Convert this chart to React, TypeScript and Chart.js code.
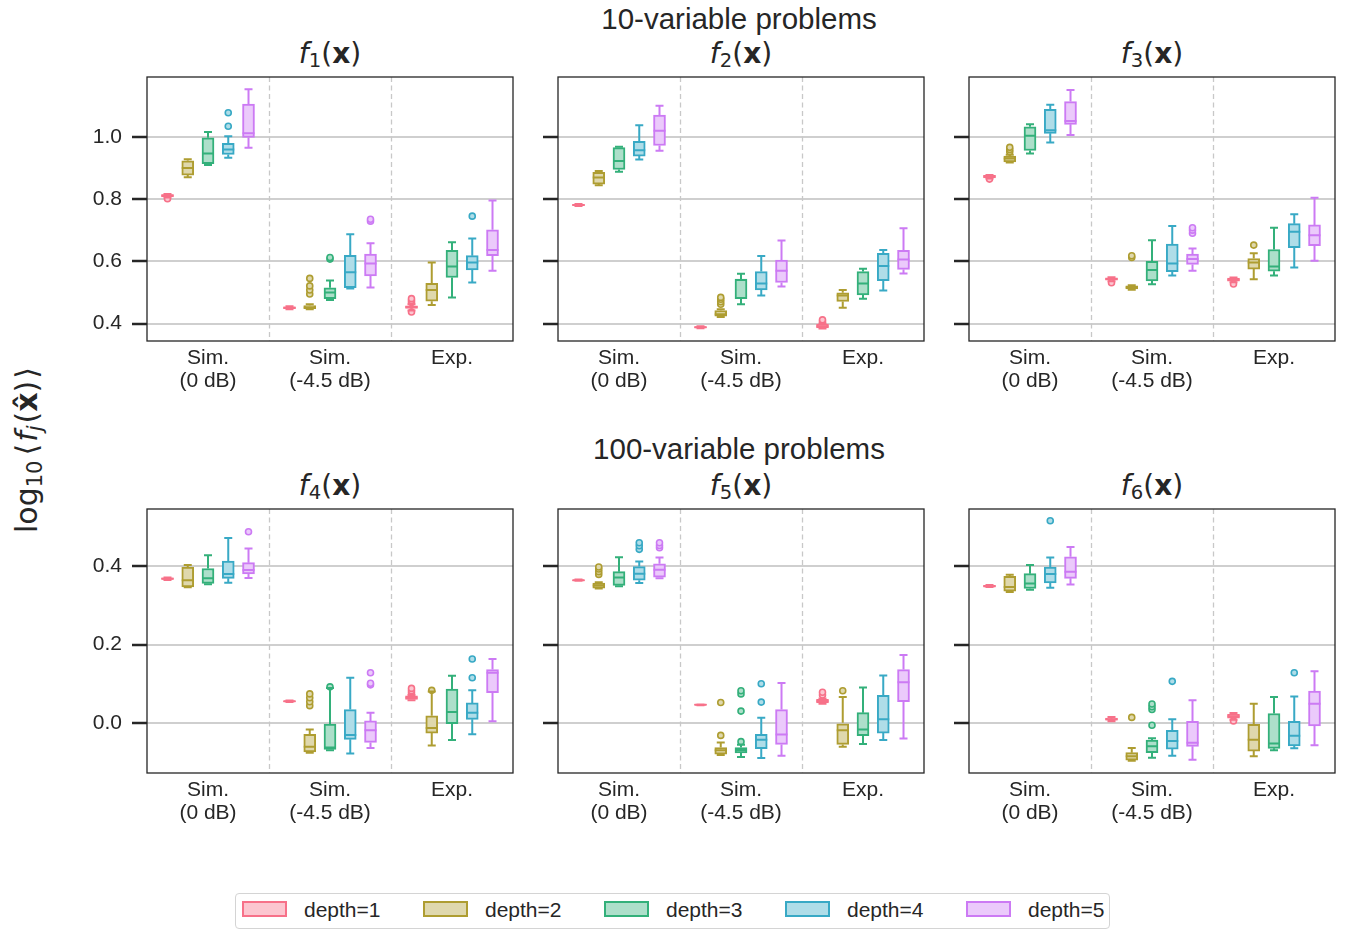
import React, { useEffect, useRef } from "react";
import { Chart, registerables } from "chart.js";

Chart.register(...registerables);

// ---------- data ----------
const GROUP_LABELS: string[][] = [["Sim.", "(0 dB)"], ["Sim.", "(-4.5 dB)"], ["Exp."]];
const DEPTH_LABELS = ["depth=1", "depth=2", "depth=3", "depth=4", "depth=5"];
const DEPTH_COLORS = ["#f77189", "#ae9d31", "#33b07a", "#38a9c5", "#cc7af4"];
const ROW_TITLES = ["10-variable problems", "100-variable problems"];
const FUNC_INDICES = ["1", "2", "3", "4", "5", "6"];
const TOP_TICKS = [0.4, 0.6, 0.8, 1.0];
const BOTTOM_TICKS = [0.0, 0.2, 0.4];
const TOP_RANGE = [0.344, 1.192];
const BOTTOM_RANGE = [-0.128, 0.546];

// per group (Sim 0 dB, Sim -4.5 dB, Exp), per depth: [whisker low, Q1, median, Q3, whisker high]
const F1_BOXES: number[][][] = [
  [[0.805, 0.807, 0.811, 0.814, 0.816], [0.870, 0.877, 0.900, 0.923, 0.928], [0.909, 0.914, 0.946, 0.997, 1.015], [0.933, 0.943, 0.959, 0.979, 1.002], [0.965, 0.998, 1.011, 1.105, 1.153]],
  [[0.446, 0.448, 0.451, 0.454, 0.456], [0.446, 0.448, 0.452, 0.458, 0.462], [0.476, 0.480, 0.500, 0.515, 0.538], [0.513, 0.515, 0.565, 0.619, 0.687], [0.516, 0.553, 0.593, 0.623, 0.658]],
  [[0.442, 0.449, 0.453, 0.457, 0.462], [0.460, 0.472, 0.508, 0.529, 0.596], [0.484, 0.548, 0.583, 0.635, 0.661], [0.532, 0.572, 0.596, 0.618, 0.673], [0.570, 0.618, 0.636, 0.701, 0.795]],
];
// [group, depth index, value]
const F1_OUTLIERS: number[][] = [
  [0, 0, 0.801], [0, 3, 1.034], [0, 3, 1.077],
  [1, 1, 0.495], [1, 1, 0.508], [1, 1, 0.521], [1, 1, 0.545], [1, 2, 0.607], [1, 2, 0.612], [1, 4, 0.729], [1, 4, 0.735],
  [2, 0, 0.437], [2, 0, 0.468], [2, 0, 0.474], [2, 0, 0.480], [2, 3, 0.745],
];

const F2_BOXES: number[][][] = [
  [[0.778, 0.779, 0.781, 0.783, 0.784], [0.844, 0.848, 0.869, 0.886, 0.890], [0.888, 0.895, 0.922, 0.965, 0.968], [0.927, 0.938, 0.957, 0.985, 1.037], [0.955, 0.972, 1.019, 1.070, 1.100]],
  [[0.385, 0.386, 0.388, 0.390, 0.391], [0.421, 0.424, 0.430, 0.442, 0.446], [0.462, 0.480, 0.540, 0.543, 0.560], [0.490, 0.508, 0.529, 0.567, 0.617], [0.519, 0.532, 0.570, 0.604, 0.667]],
  [[0.384, 0.386, 0.391, 0.398, 0.400], [0.451, 0.471, 0.490, 0.499, 0.508], [0.480, 0.492, 0.529, 0.567, 0.576], [0.506, 0.538, 0.585, 0.626, 0.636], [0.561, 0.574, 0.606, 0.635, 0.706]],
];
const F2_OUTLIERS: number[][] = [
  [1, 1, 0.462], [1, 1, 0.470], [1, 1, 0.478], [1, 1, 0.484],
  [2, 0, 0.407], [2, 0, 0.412],
];

const F3_BOXES: number[][][] = [
  [[0.866, 0.868, 0.872, 0.876, 0.877], [0.917, 0.919, 0.930, 0.938, 0.942], [0.946, 0.956, 1.003, 1.032, 1.040], [0.982, 1.011, 1.021, 1.088, 1.103], [1.006, 1.040, 1.051, 1.113, 1.150]],
  [[0.536, 0.539, 0.543, 0.547, 0.549], [0.509, 0.511, 0.516, 0.521, 0.523], [0.526, 0.537, 0.572, 0.600, 0.668], [0.554, 0.567, 0.593, 0.655, 0.713], [0.570, 0.590, 0.607, 0.623, 0.641]],
  [[0.533, 0.536, 0.541, 0.546, 0.548], [0.542, 0.575, 0.596, 0.609, 0.626], [0.554, 0.568, 0.583, 0.638, 0.708], [0.580, 0.644, 0.695, 0.721, 0.751], [0.602, 0.650, 0.684, 0.717, 0.804]],
];
const F3_OUTLIERS: number[][] = [
  [0, 0, 0.864], [0, 1, 0.952], [0, 1, 0.959], [0, 1, 0.966],
  [1, 0, 0.531], [1, 1, 0.612], [1, 1, 0.618], [1, 4, 0.690], [1, 4, 0.700], [1, 4, 0.708],
  [2, 0, 0.527], [2, 1, 0.652],
];

const F4_BOXES: number[][][] = [
  [[0.365, 0.366, 0.368, 0.370, 0.371], [0.346, 0.347, 0.364, 0.398, 0.403], [0.354, 0.356, 0.369, 0.394, 0.428], [0.358, 0.369, 0.380, 0.413, 0.472], [0.370, 0.380, 0.390, 0.409, 0.445]],
  [[0.053, 0.054, 0.055, 0.056, 0.057], [-0.076, -0.074, -0.061, -0.029, -0.017], [-0.070, -0.068, -0.063, -0.003, 0.089], [-0.078, -0.042, -0.031, 0.034, 0.115], [-0.064, -0.050, -0.019, 0.005, 0.026]],
  [[0.058, 0.060, 0.064, 0.069, 0.071], [-0.058, -0.026, -0.013, 0.018, 0.080], [-0.044, -0.002, 0.028, 0.086, 0.120], [-0.029, 0.009, 0.026, 0.051, 0.083], [0.004, 0.077, 0.128, 0.136, 0.163]],
];
const F4_OUTLIERS: number[][] = [
  [0, 4, 0.488],
  [1, 1, 0.044], [1, 1, 0.054], [1, 1, 0.064], [1, 1, 0.074], [1, 2, 0.092], [1, 4, 0.097], [1, 4, 0.101], [1, 4, 0.128],
  [2, 0, 0.076], [2, 0, 0.082], [2, 0, 0.088], [2, 1, 0.083], [2, 3, 0.115], [2, 3, 0.163],
];

const F5_BOXES: number[][][] = [
  [[0.363, 0.363, 0.364, 0.365, 0.366], [0.343, 0.344, 0.351, 0.357, 0.359], [0.349, 0.351, 0.371, 0.386, 0.423], [0.357, 0.364, 0.381, 0.399, 0.412], [0.369, 0.372, 0.391, 0.406, 0.422]],
  [[0.045, 0.045, 0.046, 0.047, 0.047], [-0.082, -0.080, -0.070, -0.063, -0.050], [-0.087, -0.077, -0.069, -0.063, -0.056], [-0.090, -0.066, -0.043, -0.029, 0.013], [-0.084, -0.055, -0.030, 0.034, 0.102]],
  [[0.049, 0.051, 0.056, 0.060, 0.062], [-0.061, -0.055, -0.019, 0.000, 0.066], [-0.054, -0.033, -0.017, 0.026, 0.090], [-0.044, -0.026, 0.009, 0.070, 0.121], [-0.040, 0.054, 0.104, 0.136, 0.173]],
];
const F5_OUTLIERS: number[][] = [
  [0, 1, 0.379], [0, 1, 0.386], [0, 1, 0.393], [0, 1, 0.398], [0, 3, 0.443], [0, 3, 0.452], [0, 3, 0.460], [0, 4, 0.447], [0, 4, 0.453], [0, 4, 0.460],
  [1, 1, -0.032], [1, 1, 0.052], [1, 2, -0.048], [1, 2, 0.030], [1, 2, 0.074], [1, 2, 0.082], [1, 3, 0.053], [1, 3, 0.100],
  [2, 0, 0.071], [2, 0, 0.078], [2, 1, 0.082],
];

const F6_BOXES: number[][][] = [
  [[0.347, 0.347, 0.349, 0.351, 0.352], [0.334, 0.336, 0.347, 0.374, 0.378], [0.340, 0.343, 0.356, 0.381, 0.403], [0.345, 0.357, 0.380, 0.398, 0.422], [0.353, 0.369, 0.386, 0.424, 0.449]],
  [[0.004, 0.007, 0.009, 0.012, 0.015], [-0.097, -0.095, -0.085, -0.076, -0.064], [-0.089, -0.076, -0.060, -0.044, -0.039], [-0.084, -0.067, -0.046, -0.019, 0.009], [-0.094, -0.060, -0.051, 0.004, 0.058]],
  [[0.008, 0.012, 0.017, 0.022, 0.025], [-0.085, -0.072, -0.043, -0.004, 0.049], [-0.070, -0.065, -0.053, 0.024, 0.066], [-0.065, -0.059, -0.033, 0.004, 0.067], [-0.057, -0.008, 0.049, 0.081, 0.132]],
];
const F6_OUTLIERS: number[][] = [
  [0, 3, 0.516],
  [1, 1, 0.014], [1, 2, -0.006], [1, 2, 0.034], [1, 2, 0.041], [1, 2, 0.048], [1, 3, 0.106],
  [2, 0, 0.005], [2, 3, 0.128],
];

// ---------- layout / style ----------
const FONT = "'Liberation Sans', Arial, Helvetica, sans-serif";
const MATH_FONT = "'DejaVu Sans', sans-serif";
const TEXT = "#262626";
const PLOT_W = 366;
const PLOT_H = 264;
const AXIS_W = 90;
const XAXIS_H = 60;
const PAD_T = 26;
const PAD_R = 10;
const DODGE = 0.166;
const BOX_PX = 12;
const CAP_PX = 8;
const COL_LEFTS = [147, 558, 969];
const ROW_TOPS = [77, 509];

function tint(hex: string, a = 0.4): string {
  const n = parseInt(hex.slice(1), 16);
  const r = (n >> 16) & 255, g = (n >> 8) & 255, b = n & 255;
  const m = (c: number) => Math.round(c * a + 255 * (1 - a));
  return `rgb(${m(r)},${m(g)},${m(b)})`;
}

type PanelSpec = {
  idx: string;
  boxes: number[][][];
  outliers: number[][];
  left: number;
  top: number;
  ticks: number[];
  range: number[];
  showY: boolean;
};

const PANELS: PanelSpec[] = [
  { idx: FUNC_INDICES[0], boxes: F1_BOXES, outliers: F1_OUTLIERS, left: COL_LEFTS[0], top: ROW_TOPS[0], ticks: TOP_TICKS, range: TOP_RANGE, showY: true },
  { idx: FUNC_INDICES[1], boxes: F2_BOXES, outliers: F2_OUTLIERS, left: COL_LEFTS[1], top: ROW_TOPS[0], ticks: TOP_TICKS, range: TOP_RANGE, showY: false },
  { idx: FUNC_INDICES[2], boxes: F3_BOXES, outliers: F3_OUTLIERS, left: COL_LEFTS[2], top: ROW_TOPS[0], ticks: TOP_TICKS, range: TOP_RANGE, showY: false },
  { idx: FUNC_INDICES[3], boxes: F4_BOXES, outliers: F4_OUTLIERS, left: COL_LEFTS[0], top: ROW_TOPS[1], ticks: BOTTOM_TICKS, range: BOTTOM_RANGE, showY: true },
  { idx: FUNC_INDICES[4], boxes: F5_BOXES, outliers: F5_OUTLIERS, left: COL_LEFTS[1], top: ROW_TOPS[1], ticks: BOTTOM_TICKS, range: BOTTOM_RANGE, showY: false },
  { idx: FUNC_INDICES[5], boxes: F6_BOXES, outliers: F6_OUTLIERS, left: COL_LEFTS[2], top: ROW_TOPS[1], ticks: BOTTOM_TICKS, range: BOTTOM_RANGE, showY: false },
];

function boxPlugin(boxes: number[][][]) {
  return {
    id: "boxWhiskers",
    beforeDatasetsDraw(chart: any) {
      const { ctx, chartArea, scales } = chart;
      ctx.save();
      ctx.strokeStyle = "#c8c8c8";
      ctx.lineWidth = 1.3;
      ctx.setLineDash([5, 3.5]);
      [0.5, 1.5].forEach((v) => {
        const px = Math.round(scales.x.getPixelForValue(v)) + 0.5;
        ctx.beginPath();
        ctx.moveTo(px, chartArea.top);
        ctx.lineTo(px, chartArea.bottom);
        ctx.stroke();
      });
      ctx.restore();
    },
    afterDatasetsDraw(chart: any) {
      const { ctx, scales } = chart;
      const xs = scales.x, ys = scales.y;
      ctx.save();
      ctx.lineWidth = 2;
      ctx.lineCap = "butt";
      boxes.forEach((grp, g) => {
        grp.forEach((s, d) => {
          const cx = xs.getPixelForValue(g + (d - 2) * DODGE);
          const [lo, q1, med, q3, hi] = s;
          const yLo = ys.getPixelForValue(lo), yQ1 = ys.getPixelForValue(q1);
          const yMed = ys.getPixelForValue(med), yQ3 = ys.getPixelForValue(q3), yHi = ys.getPixelForValue(hi);
          ctx.strokeStyle = DEPTH_COLORS[d];
          ctx.beginPath();
          ctx.moveTo(cx, yQ3); ctx.lineTo(cx, yHi);
          ctx.moveTo(cx - CAP_PX / 2, yHi); ctx.lineTo(cx + CAP_PX / 2, yHi);
          ctx.moveTo(cx, yQ1); ctx.lineTo(cx, yLo);
          ctx.moveTo(cx - CAP_PX / 2, yLo); ctx.lineTo(cx + CAP_PX / 2, yLo);
          ctx.moveTo(cx - BOX_PX / 2, yMed); ctx.lineTo(cx + BOX_PX / 2, yMed);
          ctx.stroke();
        });
      });
      ctx.restore();
    },
    afterDraw(chart: any) {
      const { ctx, chartArea } = chart;
      ctx.save();
      ctx.strokeStyle = TEXT;
      ctx.lineWidth = 1.3;
      ctx.strokeRect(chartArea.left, chartArea.top, chartArea.right - chartArea.left, chartArea.bottom - chartArea.top);
      ctx.restore();
    },
  };
}

function buildDatasets(p: PanelSpec) {
  const ds: any[] = [];
  for (let d = 0; d < DEPTH_LABELS.length; d++) {
    ds.push({
      type: "bar",
      label: DEPTH_LABELS[d],
      data: p.boxes.map((grp, g) => ({ x: g + (d - 2) * DODGE, y: [grp[d][1], grp[d][3]] })),
      backgroundColor: tint(DEPTH_COLORS[d]),
      borderColor: DEPTH_COLORS[d],
      borderWidth: 2,
      borderSkipped: false,
      barThickness: BOX_PX,
      maxBarThickness: BOX_PX,
      grouped: false,
      order: 2,
    });
  }
  for (let d = 0; d < DEPTH_LABELS.length; d++) {
    ds.push({
      type: "scatter",
      label: DEPTH_LABELS[d] + " outliers",
      data: p.outliers.filter((o) => o[1] === d).map((o) => ({ x: o[0] + (d - 2) * DODGE, y: o[2] })),
      pointRadius: 3,
      pointBorderWidth: 1.6,
      pointBackgroundColor: tint(DEPTH_COLORS[d]),
      pointBorderColor: DEPTH_COLORS[d],
      order: 1,
    });
  }
  return ds;
}

function Panel({ p }: { p: PanelSpec }) {
  const ref = useRef<HTMLCanvasElement>(null);
  const W = AXIS_W + PLOT_W + PAD_R;
  const H = PAD_T + PLOT_H + XAXIS_H;
  useEffect(() => {
    if (!ref.current) return;
    const chart = new Chart(ref.current, {
      type: "bar",
      data: { datasets: buildDatasets(p) },
      options: {
        responsive: false,
        animation: false,
        devicePixelRatio: 1,
        events: [],
        layout: { padding: { top: PAD_T, right: PAD_R, left: 0, bottom: 0 } },
        plugins: { legend: { display: false }, tooltip: { enabled: false }, title: { display: false } },
        scales: {
          x: {
            type: "linear",
            min: -0.5,
            max: 2.5,
            offset: false,
            grid: { display: false, drawTicks: false, offset: false },
            border: { display: false },
            afterBuildTicks: (s: any) => {
              s.ticks = GROUP_LABELS.map((_, i) => ({ value: i }));
            },
            afterFit: (s: any) => {
              s.height = XAXIS_H;
            },
            ticks: {
              autoSkip: false,
              maxRotation: 0,
              minRotation: 0,
              padding: 5,
              color: TEXT,
              font: { family: FONT, size: 21, lineHeight: 1.12 },
              callback: (v: any) => GROUP_LABELS[Math.round(Number(v))],
            },
          },
          y: {
            type: "linear",
            min: p.range[0],
            max: p.range[1],
            afterBuildTicks: (s: any) => {
              s.ticks = p.ticks.map((v) => ({ value: v }));
            },
            afterFit: (s: any) => {
              s.width = AXIS_W;
            },
            grid: { color: "#cfcfcf", lineWidth: 2, drawTicks: true, tickLength: 15, tickWidth: 2.5, tickColor: TEXT },
            border: { display: false },
            ticks: {
              padding: 10,
              color: TEXT,
              font: { family: FONT, size: 21 },
              callback: (v: any) => (p.showY ? Number(v).toFixed(1) : ""),
            },
          },
        },
      } as any,
      plugins: [boxPlugin(p.boxes)],
    } as any);
    return () => chart.destroy();
  }, []);
  return (
    <canvas
      ref={ref}
      width={W}
      height={H}
      style={{ position: "absolute", left: p.left - AXIS_W, top: p.top - PAD_T, width: W, height: H }}
    />
  );
}

function MathTitle({ idx, left, top }: { idx: string; left: number; top: number }) {
  return (
    <div
      style={{
        position: "absolute", left, top, width: PLOT_W, textAlign: "center",
        fontFamily: MATH_FONT, fontSize: 28, lineHeight: "28px", color: TEXT, whiteSpace: "nowrap",
      }}
    >
      <span style={{ fontStyle: "italic" }}>f</span>
      <span style={{ fontSize: "0.7em", position: "relative", top: "0.22em" }}>{idx}</span>
      <span>(</span>
      <span style={{ fontWeight: "bold" }}>x</span>
      <span>)</span>
    </div>
  );
}

export default function App() {
  const subSty: React.CSSProperties = { fontSize: "0.7em", position: "relative", top: "0.22em" };
  return (
    <div style={{ position: "absolute", left: 0, top: 0, width: 1351, height: 931, background: "#fff", overflow: "hidden" }}>
      {ROW_TITLES.map((t, r) => (
        <div
          key={t}
          style={{
            position: "absolute", left: 739 - 300, width: 600, top: r === 0 ? 4 : 434,
            textAlign: "center", fontFamily: FONT, fontSize: 29.5, lineHeight: "29.5px", color: TEXT, whiteSpace: "nowrap",
          }}
        >
          {t}
        </div>
      ))}
      {PANELS.map((p) => (
        <MathTitle key={"t" + p.idx} idx={p.idx} left={p.left} top={p.top === ROW_TOPS[0] ? 40 : 472} />
      ))}
      {PANELS.map((p) => (
        <Panel key={p.idx} p={p} />
      ))}
      <div
        style={{
          position: "absolute", left: 28, top: 450, transform: "translate(-50%, -50%) rotate(-90deg)",
          fontFamily: MATH_FONT, fontSize: 30, lineHeight: "36px", whiteSpace: "nowrap", color: TEXT,
        }}
      >
        <span>log</span>
        <span style={subSty}>10</span>
        <span style={{ marginLeft: 5 }}>{"\u27E8"}</span>
        <span style={{ fontStyle: "italic", marginLeft: 2 }}>f</span>
        <span style={{ ...subSty, fontStyle: "italic" }}>j</span>
        <span style={{ marginLeft: 2 }}>(</span>
        <span style={{ fontWeight: "bold" }}>{"x\u0302"}</span>
        <span>{")"}</span>
        <span style={{ marginLeft: 2 }}>{"\u27E9"}</span>
      </div>
      <div
        style={{
          position: "absolute", left: 235, top: 893, width: 875, height: 36, boxSizing: "border-box",
          border: "1.3px solid #d4d4d4", borderRadius: 4,
        }}
      />
      {DEPTH_LABELS.map((lab, d) => (
        <React.Fragment key={lab}>
          <div
            style={{
              position: "absolute", left: 242 + d * 181, top: 901, width: 45, height: 16, boxSizing: "border-box",
              background: tint(DEPTH_COLORS[d]), border: `2px solid ${DEPTH_COLORS[d]}`,
            }}
          />
          <div
            style={{
              position: "absolute", left: 304 + d * 181, top: 898.5, fontFamily: FONT, fontSize: 21,
              lineHeight: "21px", color: TEXT, whiteSpace: "nowrap",
            }}
          >
            {lab}
          </div>
        </React.Fragment>
      ))}
    </div>
  );
}
